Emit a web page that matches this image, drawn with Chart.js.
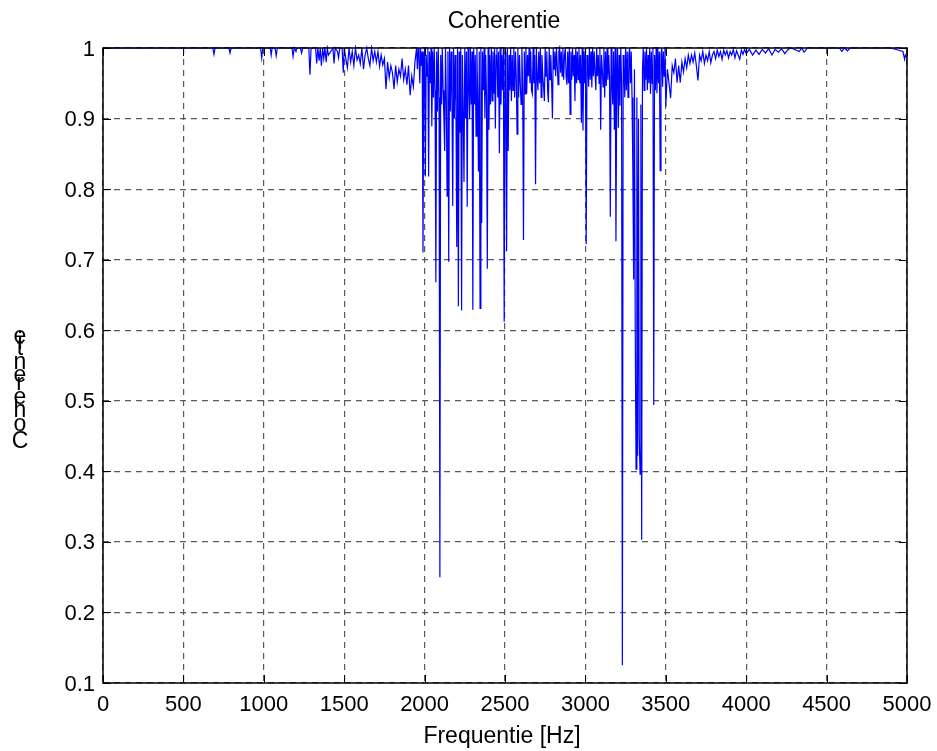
<!DOCTYPE html>
<html>
<head>
<meta charset="utf-8">
<title>Coherentie</title>
<script src="https://cdn.jsdelivr.net/npm/chart.js@4.4.1/dist/chart.umd.min.js"></script>
<style>
  html, body { margin: 0; padding: 0; background: #ffffff; }
  #wrap { width: 937px; height: 751px; }
  canvas { display: block; }
</style>
</head>
<body>
<div id="wrap"><canvas id="coh" width="937" height="751"></canvas></div>
<script>
// ---- Coherence spectrum, Frequentie [Hz] vs Coherentie ----

// 0 – 1494 Hz: almost flat, a few shallow dips (irregular frequency list)
const lowBandHz  = [0, 300, 600, 683, 690, 697, 783, 790, 797, 980, 987, 994,
                    1040, 1046, 1052, 1070, 1077, 1084, 1175, 1182, 1189, 1200, 1205,
                    1228, 1235, 1242, 1280, 1287, 1294, 1322, 1329, 1336, 1344, 1351,
                    1358, 1366, 1373, 1380, 1388, 1395, 1402, 1430, 1437, 1444, 1458,
                    1465, 1472, 1487, 1494];
const lowBandCoh = [1, 1, 1, 1, 0.991, 1, 1, 0.993, 1, 1, 0.986, 1,
                    1, 0.99, 1, 1, 0.989, 1, 1, 0.988, 1, 0.995, 1,
                    1, 0.993, 1, 1, 0.962, 1, 1, 0.978, 1, 0.982, 1,
                    0.975, 1, 0.985, 1, 0.98, 1, 0.99, 1, 0.978, 1, 0.995,
                    0.986, 1, 1, 0.965];

// 1500 – 1940 Hz, 10 Hz bins
const riseStartHz = 1500;
const riseStepHz = 10;
const riseCoh = [
  1, 0.985, 0.972, 1, 0.98, 0.995, 0.975, 1, 0.983, 0.99,
  0.978, 1, 0.97, 0.99, 1, 0.985, 0.975, 1, 0.982, 0.995,
  0.98, 0.995, 0.974, 0.99, 0.976, 0.985, 0.942, 0.98, 0.958, 0.975,
  0.965, 0.942, 0.975, 0.952, 0.97, 0.96, 0.985, 0.955, 0.97, 0.948,
  0.975, 0.933, 0.96, 0.945, 0.98
];

// 1950 – 3500 Hz, 5 Hz bins (the region with the deep notches)
const notchStartHz = 1950;
const notchStepHz = 5;
const notchCoh = [
  // 1950 – 2045
  1, 0.97, 1, 0.985, 0.95, 1, 0.975, 0.995, 0.71, 0.98, 1, 0.818, 0.99, 0.96, 1, 0.818, 0.995, 0.95, 1, 0.889,
  // 2050 – 2145
  0.995, 0.93, 1, 0.94, 0.668, 0.995, 0.91, 1, 0.93, 0.25, 0.99, 0.92, 1, 0.94, 0.9, 0.854, 1, 0.93, 0.79, 0.995,
  // 2150 – 2245
  0.697, 1, 0.91, 0.995, 0.93, 0.776, 1, 0.9, 0.99, 0.92, 0.718, 1, 0.634, 0.995, 0.88, 1, 0.628, 0.99, 0.91, 0.81,
  // 2250 – 2345
  1, 0.9, 0.995, 0.775, 1, 0.95, 0.9, 1, 0.92, 0.995, 0.629, 1, 0.92, 0.99, 0.875, 1, 0.93, 0.825, 0.995, 0.631,
  // 2350 – 2445
  1, 0.752, 0.995, 0.94, 1, 0.9, 0.99, 0.93, 0.687, 1, 0.884, 0.99, 0.92, 1, 0.925, 0.995, 0.935, 1, 0.886, 0.99,
  // 2450 – 2545
  1, 0.93, 0.995, 0.851, 1, 0.92, 0.99, 0.94, 1, 0.612, 0.995, 0.95, 0.712, 1, 0.854, 0.99, 0.94, 1, 0.925, 0.99,
  // 2550 – 2645
  0.94, 1, 0.93, 0.995, 0.96, 0.878, 1, 0.93, 0.99, 0.95, 0.92, 1, 0.945, 0.728, 0.995, 0.935, 1, 0.935, 0.99, 0.96,
  // 2650 – 2745
  1, 0.95, 0.995, 0.94, 0.935, 1, 0.95, 0.99, 0.807, 1, 0.96, 0.94, 0.995, 0.95, 1, 0.93, 0.99, 0.96, 0.945, 0.925,
  // 2750 – 2845
  1, 0.96, 0.995, 0.94, 0.923, 1, 0.955, 0.99, 0.95, 0.9, 1, 0.97, 0.995, 0.96, 1, 0.975, 0.948, 0.995, 1, 0.965,
  // 2850 – 2945
  0.995, 0.96, 1, 0.955, 0.99, 1, 0.96, 0.948, 0.995, 0.95, 1, 0.906, 0.995, 0.955, 1, 0.96, 0.99, 0.925, 1, 0.95,
  // 2950 – 3045
  0.995, 0.955, 1, 0.95, 0.99, 0.894, 1, 0.883, 0.995, 0.95, 1, 0.722, 0.99, 0.97, 0.945, 1, 0.955, 0.995, 0.944, 1,
  // 3050 – 3145
  0.96, 0.995, 0.965, 0.94, 1, 0.96, 0.99, 0.95, 1, 0.884, 0.99, 0.97, 0.945, 1, 0.93, 0.995, 0.946, 1, 0.955, 0.99,
  // 3150 – 3245
  0.96, 0.761, 1, 0.95, 0.92, 0.995, 0.884, 1, 0.726, 0.95, 1, 0.887, 0.99, 0.918, 1, 0.95, 0.125, 0.99, 0.97, 0.93,
  // 3250 – 3345
  1, 0.94, 0.995, 0.93, 0.99, 1, 0.95, 0.995, 0.93, 0.829, 0.672, 0.97, 0.6, 0.403, 0.93, 0.422, 0.9, 0.45, 0.396, 0.92,
  // 3350 – 3445
  0.303, 0.97, 1, 0.94, 0.995, 0.955, 1, 0.94, 0.99, 0.95, 1, 0.935, 0.995, 0.95, 1, 0.494, 0.99, 0.94, 1, 0.936,
  // 3450 – 3500
  1, 0.95, 0.995, 0.826, 0.99, 1, 0.945, 0.995, 0.96, 1, 0.917
];

// 3510 – 3990 Hz, 10 Hz bins
const fadeStartHz = 3510;
const fadeStepHz = 10;
const fadeCoh = [
  0.97, 0.95, 0.929, 0.975, 0.965, 0.985, 0.951, 0.975, 0.951, 0.98,
  0.966, 0.985, 0.972, 0.99, 0.978, 0.99, 0.98, 0.993, 0.975, 0.954,
  0.99, 0.982, 0.995, 0.978, 0.99, 0.982, 0.995, 0.979, 0.99, 0.995,
  0.985, 0.997, 0.988, 0.995, 0.984, 0.997, 0.99, 0.996, 0.986, 0.995,
  0.99, 0.998, 0.986, 0.996, 0.99, 0.984, 0.997, 0.991, 0.998
];

// 4000 – 5000 Hz: close to 1 (irregular frequency list)
const highBandHz  = [4000, 4020, 4040, 4060, 4080, 4100, 4120, 4140, 4160, 4180, 4200,
                     4220, 4240, 4260, 4280, 4330, 4345, 4360, 4380, 4400, 4450, 4500,
                     4580, 4595, 4610, 4630, 4645, 4700, 4800, 4900, 4975, 4985, 4990, 5000];
const highBandCoh = [0.992, 0.998, 0.99, 0.997, 0.991, 0.998, 0.993, 0.999, 0.99, 0.998, 0.994,
                     0.999, 0.992, 0.998, 1, 0.995, 1, 0.994, 1, 1, 1, 1,
                     1, 0.995, 1, 0.996, 1, 1, 1, 1, 0.995, 0.984, 0.99, 0.986];

// Axis ticks
const xTickLabels = ['0', '500', '1000', '1500', '2000', '2500', '3000', '3500', '4000', '4500', '5000'];
const yTickLabels = ['0.1', '0.2', '0.3', '0.4', '0.5', '0.6', '0.7', '0.8', '0.9', '1'];

const titleText = 'Coherentie';
const xAxisTitle = 'Frequentie [Hz]';
const yAxisTitle = 'Coherentie';

// ---- build {x, y} points ----
function listedBand(hz, coh) {
  const n = Math.min(hz.length, coh.length);
  const out = [];
  for (let i = 0; i < n; i++) out.push({ x: hz[i], y: coh[i] });
  return out;
}
function binnedBand(startHz, stepHz, coh) {
  return coh.map((c, i) => ({ x: startHz + i * stepHz, y: c }));
}
const points = [].concat(
  listedBand(lowBandHz, lowBandCoh),
  binnedBand(riseStartHz, riseStepHz, riseCoh),
  binnedBand(notchStartHz, notchStepHz, notchCoh),
  binnedBand(fadeStartHz, fadeStepHz, fadeCoh),
  listedBand(highBandHz, highBandCoh)
);

const FONT = '"Liberation Sans", Arial, Helvetica, sans-serif';
const TICK_LEN = 8;

// Axes box, inward tick marks and the text around the axes
const axesDecor = {
  id: 'axesDecor',
  afterDatasetsDraw(chart) {
    const { ctx, chartArea: a, scales: { x, y } } = chart;
    ctx.save();
    ctx.strokeStyle = '#000000';
    ctx.lineWidth = 1;
    ctx.beginPath();
    x.ticks.forEach(t => {
      const px = Math.round(x.getPixelForValue(t.value)) + 0.5;
      ctx.moveTo(px, a.bottom); ctx.lineTo(px, a.bottom - TICK_LEN);
      ctx.moveTo(px, a.top);    ctx.lineTo(px, a.top + TICK_LEN);
    });
    y.ticks.forEach(t => {
      const py = Math.round(y.getPixelForValue(t.value)) + 0.5;
      ctx.moveTo(a.left, py);  ctx.lineTo(a.left + TICK_LEN, py);
      ctx.moveTo(a.right, py); ctx.lineTo(a.right - TICK_LEN, py);
    });
    ctx.stroke();
    ctx.lineWidth = 1.5;
    ctx.strokeRect(a.left, a.top, a.right - a.left, a.bottom - a.top);
    ctx.restore();
  },
  afterDraw(chart) {
    const { ctx, chartArea: a } = chart;
    ctx.save();
    ctx.fillStyle = '#000000';
    ctx.font = '23px ' + FONT;
    ctx.textAlign = 'center';
    ctx.textBaseline = 'alphabetic';
    const cx = (a.left + a.right) / 2;
    ctx.fillText(titleText, cx - 1, 28);
    ctx.fillText(xAxisTitle, cx - 3, 743);
    // y-axis label: upright glyphs stacked upward along the rotated text path
    let yy = 448;
    for (const ch of yAxisTitle) {
      ctx.fillText(ch, 20, yy);
      yy -= ctx.measureText(ch).width * 1.05;
    }
    ctx.restore();
  }
};

new Chart(document.getElementById('coh'), {
  type: 'line',
  data: {
    datasets: [{
      label: yAxisTitle,
      data: points,
      borderColor: '#0000ff',
      backgroundColor: '#0000ff',
      borderWidth: 1.2,
      pointRadius: 0,
      pointHoverRadius: 0,
      tension: 0,
      fill: false,
      clip: 3
    }]
  },
  options: {
    responsive: false,
    animation: false,
    devicePixelRatio: 1,
    events: [],
    layout: { padding: { left: 0, top: 48, right: 30, bottom: 0 } },
    plugins: {
      legend: { display: false },
      title: { display: false },
      tooltip: { enabled: false }
    },
    scales: {
      x: {
        type: 'linear',
        min: 0,
        max: 5000,
        afterFit(scale) {
          scale.height = 68;
          scale.paddingLeft = 0;
          scale.paddingRight = 0;
        },
        afterBuildTicks(scale) {
          scale.ticks = xTickLabels.map(s => ({ value: Number(s) }));
        },
        ticks: {
          color: '#000000',
          font: { family: FONT, size: 22 },
          padding: 9,
          maxRotation: 0,
          autoSkip: false,
          callback: (v) => xTickLabels[Math.round(v / 500)]
        },
        grid: { color: '#5a5a5a', lineWidth: 1.2, drawTicks: false },
        border: { display: false, dash: [6, 5] }
      },
      y: {
        type: 'linear',
        min: 0.1,
        max: 1,
        afterFit(scale) {
          scale.width = 103;
          scale.paddingTop = 0;
          scale.paddingBottom = 0;
        },
        afterBuildTicks(scale) {
          scale.ticks = yTickLabels.map(s => ({ value: Number(s) }));
        },
        ticks: {
          color: '#000000',
          font: { family: FONT, size: 22 },
          padding: 8,
          labelOffset: 1.5,
          autoSkip: false,
          callback: (v) => yTickLabels[Math.round(v * 10) - 1]
        },
        grid: { color: '#5a5a5a', lineWidth: 1.2, drawTicks: false },
        border: { display: false, dash: [6, 5] }
      }
    }
  },
  plugins: [axesDecor]
});
</script>
</body>
</html>
